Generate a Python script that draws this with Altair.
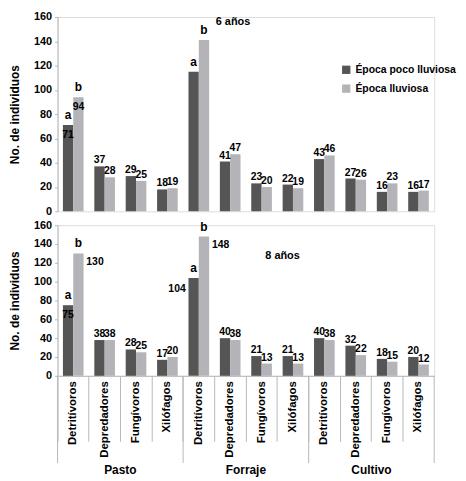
import altair as alt
import pandas as pd

# categories
groups = ["Pasto", "Forraje", "Cultivo"]
guilds = ["Detritívoros", "Depredadores", "Fungívoros", "Xilófagos"]
seasons = ["Época poco lluviosa", "Época lluviosa"]

# 6 años (Pasto, Forraje, Cultivo x guilds)
dry_6 = [71, 37, 29, 18, 115, 41, 23, 22, 43, 27, 16, 16]
wet_6 = [94, 28, 25, 19, 141, 47, 20, 19, 46, 26, 23, 17]

# 8 años
dry_8 = [75, 38, 28, 17, 104, 40, 21, 21, 40, 32, 18, 20]
wet_8 = [130, 38, 25, 20, 148, 38, 13, 13, 38, 22, 15, 12]

# significance letters on Detritívoros
letter_groups = ["Pasto", "Forraje"]
letters = ["a", "b"]

y_ticks = [0, 20, 40, 60, 80, 100, 120, 140, 160]

keys = [f"{g}|{c}" for g in groups for c in guilds]

FONT = "Liberation Sans"
DARK = "#555555"
LIGHT = "#b4b4b8"
LINE = "#b8b8b8"

W = 380
H_TOP = 196
H_BOT = 152
TICK = 66

# value labels that are not simply above their bar
place = {
    ("6", "Pasto|Detritívoros", 0): "inside",
    ("6", "Pasto|Detritívoros", 1): "inside",
    ("6", "Forraje|Detritívoros", 0): "none",
    ("6", "Forraje|Detritívoros", 1): "none",
    ("8", "Pasto|Detritívoros", 0): "inside",
    ("8", "Pasto|Detritívoros", 1): "right",
    ("8", "Forraje|Detritívoros", 0): "left",
    ("8", "Forraje|Detritívoros", 1): "right",
}


def make_df(panel, dry, wet):
    rows = []
    for i, k in enumerate(keys):
        g, c = k.split("|")
        for s, vals in enumerate([dry, wet]):
            rows.append({
                "key": k,
                "grupo": g,
                "epoca": seasons[s],
                "valor": vals[i],
                "place": place.get((panel, k, s), "above"),
                "letra": letters[s] if (c == guilds[0] and g in letter_groups) else "",
            })
    return pd.DataFrame(rows)


txt = dict(font=FONT, fontSize=10.5, fontWeight="bold", color="black")


def panel(df, height, title, title_xy, bottom):
    if bottom:
        x_axis = alt.Axis(
            bandPosition=0, tickSize=TICK,
            tickColor=LINE, domainColor=LINE, labelAngle=-90,
            labelAlign="right", labelBaseline="middle",
            labelExpr="split(datum.label, '|')[1]",
            labelFont=FONT, labelFontSize=11.5, labelFontWeight="bold",
            labelColor="black", labelPadding=-(TICK - 5),
        )
    else:
        x_axis = None

    base = alt.Chart(df).encode(
        x=alt.X("key:N", sort=keys, title=None,
                scale=alt.Scale(paddingInner=0, paddingOuter=0), axis=x_axis),
        xOffset=alt.XOffset("epoca:N", sort=seasons,
                            scale=alt.Scale(paddingInner=0, paddingOuter=0.52)),
        y=alt.Y("valor:Q", scale=alt.Scale(domain=[0, 160], nice=False),
                axis=alt.Axis(
                    values=y_ticks, title="No. de individuos", grid=False,
                    titleFont=FONT, titleFontSize=12, titleFontWeight="bold",
                    titleColor="black", titlePadding=12,
                    labelFont=FONT, labelFontSize=11, labelFontWeight="bold",
                    labelColor="black", labelPadding=3,
                    domainColor=LINE, tickColor=LINE, tickSize=3,
                )),
    )

    legend = alt.Legend(
        orient="none", legendX=286, legendY=48, title=None,
        symbolType="square", symbolSize=70, symbolStrokeWidth=0,
        labelFont=FONT, labelFontSize=10.5, labelFontWeight="bold",
        labelColor="black", rowPadding=8,
    ) if not bottom else None

    bars = base.mark_bar().encode(
        color=alt.Color("epoca:N", sort=seasons,
                        scale=alt.Scale(domain=seasons, range=[DARK, LIGHT]),
                        legend=legend)
    )

    above = base.transform_filter("datum.place == 'above'").mark_text(
        baseline="bottom", dy=-1, **txt).encode(text="valor:Q")
    inside = base.transform_filter("datum.place == 'inside'").mark_text(
        baseline="top", dy=5, **txt).encode(text="valor:Q")
    right = base.transform_filter("datum.place == 'right'").mark_text(
        align="left", baseline="top", dx=8, dy=4, **txt).encode(text="valor:Q")
    left = base.transform_filter("datum.place == 'left'").mark_text(
        align="right", baseline="top", dx=-8, dy=6, **txt).encode(text="valor:Q")
    lett = base.transform_filter("datum.letra != ''").mark_text(
        baseline="bottom", dy=-3, font=FONT, fontSize=12, fontWeight="bold",
        color="black").encode(text="letra:N")

    head = alt.Chart(pd.DataFrame({"t": [title]})).mark_text(
        baseline="middle", font=FONT, fontSize=11, fontWeight="bold",
        color="black").encode(
        x=alt.value(title_xy[0]), y=alt.value(title_xy[1]), text="t:N")

    layers = [bars, above, inside, right, left, lett, head]

    if bottom:
        sep = alt.Chart(pd.DataFrame({"key": [f"{g}|{guilds[0]}" for g in groups]})).mark_rule(
            color=LINE).encode(
            x=alt.X("key:N", sort=keys, bandPosition=0),
            y=alt.value(height), y2=alt.value(height + 88))
        end = alt.Chart(pd.DataFrame({"key": [keys[-1]]})).mark_rule(
            color=LINE).encode(
            x=alt.X("key:N", sort=keys, bandPosition=1),
            y=alt.value(height), y2=alt.value(height + 88))
        glab = alt.Chart(pd.DataFrame({
            "key": [f"{g}|{guilds[1]}" for g in groups], "grupo": groups
        })).mark_text(baseline="middle", font=FONT, fontSize=12, fontWeight="bold",
                      color="black").encode(
            x=alt.X("key:N", sort=keys, bandPosition=1),
            y=alt.value(height + 95), text="grupo:N")
        layers += [sep, end, glab]

    return alt.layer(*layers).properties(width=W, height=height)


top = panel(make_df("6", dry_6, wet_6), H_TOP, "6 años", (177, 5), False)
bot = panel(make_df("8", dry_8, wet_8), H_BOT, "8 años", (227, 31), True)

chart = (
    alt.vconcat(top, bot, spacing=1)
    .resolve_scale(color="independent")
    .properties(padding=0)
    .configure_view(stroke=None)
    .configure(background="white")
)

chart.save("out.html", embed_options={"renderer": "svg", "actions": False})
